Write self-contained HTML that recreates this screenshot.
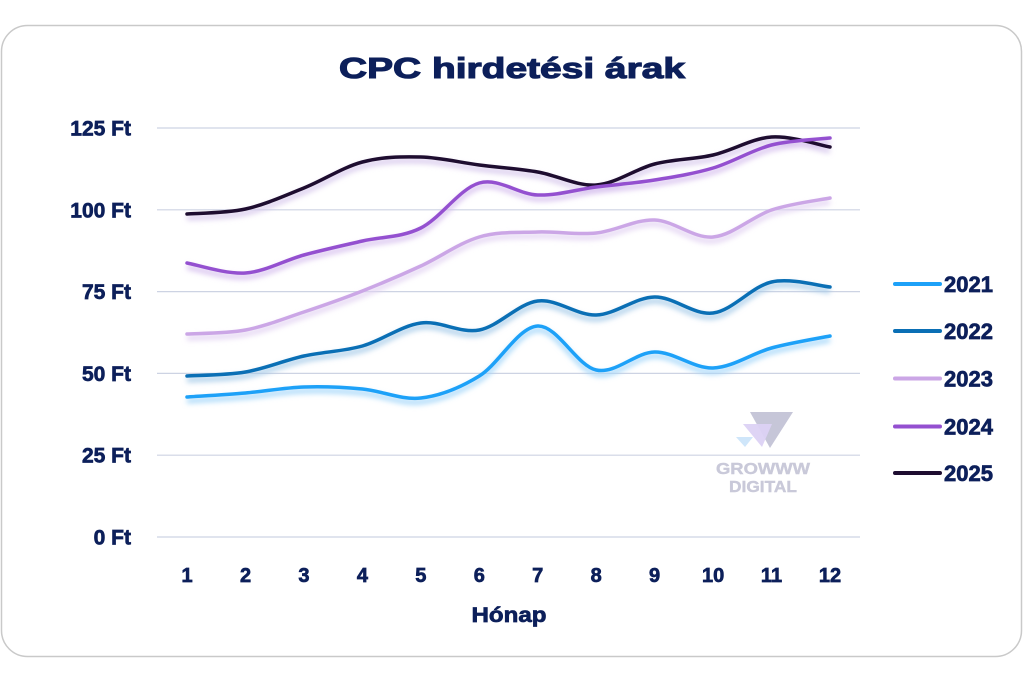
<!DOCTYPE html>
<html>
<head>
<meta charset="utf-8">
<style>
  html, body { margin:0; padding:0; background:#ffffff; }
  body { width:1024px; height:683px; overflow:hidden; }
  svg { display:block; }
  text { font-family:"Liberation Sans", Arial, sans-serif; font-weight:bold; fill:#0c1f5a; stroke:#0c1f5a; stroke-width:0.7; paint-order:stroke; }
</style>
</head>
<body>
<svg id="chart" width="1024" height="683" viewBox="0 0 1024 683" xmlns="http://www.w3.org/2000/svg">
  <defs>
    <filter id="blur" x="-10%" y="-50%" width="120%" height="200%">
      <feGaussianBlur stdDeviation="2.6"/>
    </filter>
  </defs>
  <rect x="1.5" y="25.5" width="1020" height="631" rx="26" ry="26" fill="#ffffff" stroke="#c9c9c9" stroke-width="1.5"/>

  <text x="512" y="78" font-size="29" text-anchor="middle" textLength="346" lengthAdjust="spacingAndGlyphs" style="stroke-width:1.1">CPC hirdetési árak</text>

  <g stroke="#cdd3e3" stroke-width="1.2">
    <line x1="157" y1="128" x2="860" y2="128"/>
    <line x1="157" y1="209.8" x2="860" y2="209.8"/>
    <line x1="157" y1="291.6" x2="860" y2="291.6"/>
    <line x1="157" y1="373.4" x2="860" y2="373.4"/>
    <line x1="157" y1="455.2" x2="860" y2="455.2"/>
    <line x1="157" y1="537" x2="860" y2="537"/>
  </g>

  <g font-size="21" text-anchor="end">
    <text x="131" y="135.5">125 Ft</text>
    <text x="131" y="217.3">100 Ft</text>
    <text x="131" y="299.1">75 Ft</text>
    <text x="131" y="380.9">50 Ft</text>
    <text x="131" y="462.7">25 Ft</text>
    <text x="131" y="544.5">0 Ft</text>
  </g>

  <g font-size="20" text-anchor="middle">
    <text x="187" y="582">1</text>
    <text x="245.5" y="582">2</text>
    <text x="303.9" y="582">3</text>
    <text x="362.4" y="582">4</text>
    <text x="420.8" y="582">5</text>
    <text x="479.3" y="582">6</text>
    <text x="537.7" y="582">7</text>
    <text x="596.2" y="582">8</text>
    <text x="654.6" y="582">9</text>
    <text x="713.1" y="582">10</text>
    <text x="771.5" y="582">11</text>
    <text x="830" y="582">12</text>
  </g>
  <text x="509" y="622" font-size="21" text-anchor="middle" textLength="75" lengthAdjust="spacingAndGlyphs">Hónap</text>

  <!-- watermark -->
  <g>
    <polygon points="750,412 793,412 770,448" fill="#c6c6d8"/>
    <polygon points="743,424 772,424 762,447" fill="#dcd2f4" opacity="0.95"/>
    <polygon points="736,437 753,437 745,447" fill="#cfe6fa"/>
    <text x="763" y="474" font-size="16" text-anchor="middle" style="fill:#c9c9d9;stroke:#c9c9d9;stroke-width:0.4" textLength="94" lengthAdjust="spacingAndGlyphs">GROWWW</text>
    <text x="763" y="492" font-size="16" text-anchor="middle" style="fill:#c9c9d9;stroke:#c9c9d9;stroke-width:0.4" textLength="68" lengthAdjust="spacingAndGlyphs">DIGITAL</text>
  </g>

  <g id="series"></g>

  <!-- legend -->
  <g stroke-width="4" stroke-linecap="round">
    <line x1="895" y1="284" x2="940" y2="284" stroke="#1da1f8"/>
    <line x1="895" y1="331" x2="940" y2="331" stroke="#0a6fb5"/>
    <line x1="895" y1="378.5" x2="940" y2="378.5" stroke="#cba6e6"/>
    <line x1="895" y1="426.5" x2="940" y2="426.5" stroke="#9450d0"/>
    <line x1="895" y1="473" x2="940" y2="473" stroke="#1e0d30"/>
  </g>
  <g font-size="22">
    <text x="944" y="292">2021</text>
    <text x="944" y="339">2022</text>
    <text x="944" y="386.5">2023</text>
    <text x="944" y="434.5">2024</text>
    <text x="944" y="481">2025</text>
  </g>
</svg>
<script>
(function(){
  var xs=[]; for(var i=0;i<12;i++) xs.push(187+i*58.4545);
  var series=[
    {c:"#1e0d30", s:"#d6c6ec", y:[214,209,188,162,157,165,172,185,164,155,137,147]},
    {c:"#9450d0", s:"#d6bfee", y:[263,273,255,241,228,183,195,187,180,168,145,138]},
    {c:"#cba6e6", s:"#e2d1f2", y:[334,330,312,291,266,237,232,233,220,237,210,198]},
    {c:"#0a6fb5", s:"#a6cbe9", y:[376,372,356,346,323,330,301,315,297,313,282,287]},
    {c:"#1da1f8", s:"#a3d6fa", y:[397,393,387,389,398,376,326,370,352,368,348,336]}
  ];
  function path(ys){
    var t=1/6, d="M"+xs[0].toFixed(1)+","+ys[0];
    for(var i=0;i<11;i++){
      var x0=xs[Math.max(i-1,0)], y0=ys[Math.max(i-1,0)];
      var x1=xs[i], y1=ys[i], x2=xs[i+1], y2=ys[i+1];
      var x3=xs[Math.min(i+2,11)], y3=ys[Math.min(i+2,11)];
      var c1x=x1+(x2-x0)*t, c1y=y1+(y2-y0)*t;
      var c2x=x2-(x3-x1)*t, c2y=y2-(y3-y1)*t;
      d+=" C"+c1x.toFixed(1)+","+c1y.toFixed(1)+" "+c2x.toFixed(1)+","+c2y.toFixed(1)+" "+x2.toFixed(1)+","+y2;
    }
    return d;
  }
  var g=document.getElementById("series"), ns="http://www.w3.org/2000/svg";
  var shadows=document.createElementNS(ns,"g");
  shadows.setAttribute("filter","url(#blur)");
  var lines=document.createElementNS(ns,"g");
  series.forEach(function(s){
    var d=path(s.y);
    var sh=document.createElementNS(ns,"path");
    sh.setAttribute("d",d); sh.setAttribute("fill","none");
    sh.setAttribute("stroke",s.s); sh.setAttribute("stroke-width","5");
    sh.setAttribute("transform","translate(0,4)");
    sh.setAttribute("opacity","0.9");
    shadows.appendChild(sh);
    var p=document.createElementNS(ns,"path");
    p.setAttribute("d",d); p.setAttribute("fill","none");
    p.setAttribute("stroke",s.c); p.setAttribute("stroke-width","3.5");
    p.setAttribute("stroke-linecap","round"); p.setAttribute("stroke-linejoin","round");
    lines.appendChild(p);
  });
  g.appendChild(shadows); g.appendChild(lines);
})();
</script>
</body>
</html>
